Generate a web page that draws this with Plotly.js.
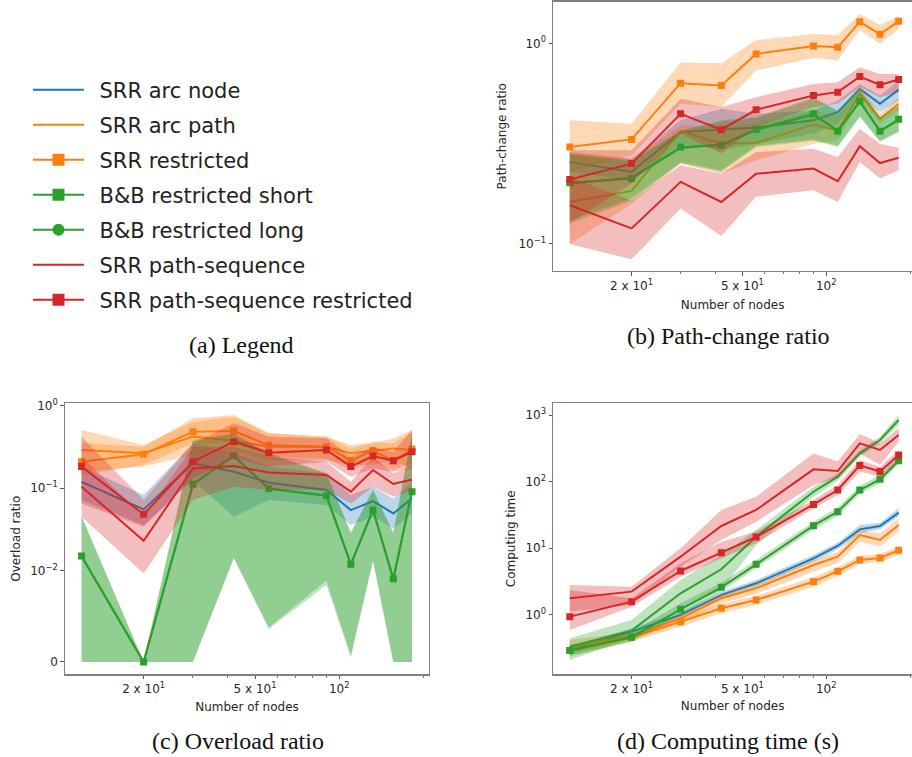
<!DOCTYPE html>
<html>
<head>
<meta charset="utf-8">
<script src="https://cdn.plot.ly/plotly-3.0.1.min.js"></script>
<style>html,body{margin:0;padding:0;background:#fff;}#chart{width:912px;height:757px;}</style>
</head>
<body>
<div id="chart"></div>
<script>
// ---------- data ----------
const nodes = [12, 20, 30, 42, 56, 90, 110, 132, 156, 182];
const xTickVals = [20, 50, 100];
const xTickText = ['2 x 10<sup>1</sup>', '5 x 10<sup>1</sup>', '10<sup>2</sup>'];
const xMinorVals = [30, 40, 60, 70, 80, 90, 200];

const seriesNames = ['SRR arc node', 'SRR arc path', 'SRR restricted', 'B&B restricted short',
  'B&B restricted long', 'SRR path-sequence', 'SRR path-sequence restricted'];

// (b) Path-change ratio
const pcrArcNode      = [0.255, 0.228, 0.360, 0.370, 0.379, 0.412, 0.453, 0.592, 0.499, 0.586];
const pcrArcNodeLo    = [0.228, 0.207, 0.315, 0.292, 0.315, 0.353, 0.396, 0.538, 0.453, 0.518];
const pcrArcNodeHi    = [0.286, 0.265, 0.412, 0.471, 0.444, 0.462, 0.518, 0.627, 0.548, 0.651];
const pcrArcPath      = [0.161, 0.183, 0.365, 0.315, 0.318, 0.393, 0.367, 0.559, 0.420, 0.499];
const pcrArcPathLo    = [0.0994, 0.158, 0.2505, 0.223, 0.260, 0.315, 0.327, 0.518, 0.396, 0.462];
const pcrArcPathHi    = [0.281, 0.265, 0.388, 0.381, 0.396, 0.462, 0.436, 0.615, 0.444, 0.538];
const pcrRestricted   = [0.303, 0.331, 0.632, 0.615, 0.885, 0.970, 0.955, 1.28, 1.11, 1.29];
const pcrRestrictedLo = [0.228, 0.275, 0.499, 0.480, 0.731, 0.845, 0.820, 1.165, 0.992, 1.179];
const pcrRestrictedHi = [0.412, 0.396, 0.801, 0.795, 1.039, 1.113, 1.10, 1.40, 1.239, 1.37];
const pcrBBShort      = [0.201, 0.211, 0.303, 0.309, 0.371, 0.444, 0.363, 0.514, 0.363, 0.417];
const pcrBBShortLo    = [0.126, 0.164, 0.2505, 0.228, 0.303, 0.327, 0.303, 0.428, 0.321, 0.360];
const pcrBBShortHi    = [0.281, 0.260, 0.367, 0.412, 0.428, 0.538, 0.462, 0.592, 0.428, 0.489];
const pcrBBLong       = [0.199, 0.213, 0.300, 0.312, 0.368, 0.440, 0.366, 0.510, 0.366, 0.413];
const pcrBBLongLo     = [0.130, 0.168, 0.255, 0.232, 0.308, 0.331, 0.307, 0.432, 0.325, 0.364];
const pcrBBLongHi     = [0.276, 0.257, 0.362, 0.405, 0.422, 0.530, 0.456, 0.585, 0.424, 0.484];
const pcrPathSeq      = [0.155, 0.1188, 0.203, 0.161, 0.223, 0.2365, 0.2045, 0.3055, 0.252, 0.268];
const pcrPathSeqLo    = [0.0994, 0.0832, 0.1494, 0.1088, 0.171, 0.1845, 0.161, 0.255, 0.211, 0.232];
const pcrPathSeqHi    = [0.215, 0.164, 0.2457, 0.223, 0.286, 0.297, 0.270, 0.374, 0.315, 0.301];
const pcrPathSeqR     = [0.2084, 0.2505, 0.444, 0.370, 0.4655, 0.548, 0.570, 0.682, 0.620, 0.659];
const pcrPathSeqRLo   = [0.126, 0.199, 0.353, 0.281, 0.381, 0.480, 0.499, 0.604, 0.538, 0.570];
const pcrPathSeqRHi   = [0.292, 0.292, 0.528, 0.480, 0.538, 0.627, 0.639, 0.759, 0.703, 0.703];

// (c) Overload ratio
const ovrArcNode      = [0.119, 0.055, 0.1995, 0.158, 0.116, 0.0946, 0.054, 0.0695, 0.0492, 0.0749];
const ovrArcNodeLo    = [0.0715, 0.0355, 0.125, 0.0448, 0.0715, 0.0621, 0.0355, 0.0448, 0.0323, 0.0492];
const ovrArcNodeHi    = [0.182, 0.0822, 0.349, 0.264, 0.182, 0.151, 0.0822, 0.104, 0.0749, 0.114];
const ovrArcPath      = [0.290, 0.264, 0.421, 0.376, 0.318, 0.318, 0.264, 0.284, 0.303, 0.290];
const ovrArcPathLo    = [0.158, 0.182, 0.252, 0.290, 0.219, 0.219, 0.190, 0.190, 0.219, 0.173];
const ovrArcPathHi    = [0.507, 0.333, 0.640, 0.736, 0.462, 0.421, 0.333, 0.349, 0.402, 0.507];
const ovrRestricted   = [0.209, 0.257, 0.484, 0.493, 0.330, 0.318, 0.215, 0.284, 0.215, 0.298];
const ovrRestrictedLo = [0.144, 0.190, 0.349, 0.349, 0.240, 0.229, 0.166, 0.209, 0.166, 0.1995];
const ovrRestrictedHi = [0.349, 0.318, 0.703, 0.772, 0.462, 0.421, 0.303, 0.366, 0.349, 0.484];
const ovrBBShort      = [0.0150, 0, 0.111, 0.247, 0.098, 0.0807, 0.0119, 0.054, 0.0091, 0.0903];
const ovrBBShortLo    = [0, 0, 0, 0.0140, 0.0038, 0.0089, 0.0007, 0.0133, 0, 0];
const ovrBBShortHi    = [0.0448, 0, 0.383, 0.462, 0.264, 0.151, 0.0281, 0.0946, 0.0281, 0.462];
const ovrBBLong       = [0.0148, 0, 0.112, 0.245, 0.099, 0.081, 0.0118, 0.0545, 0.0090, 0.091];
const ovrBBLongLo     = [0, 0, 0, 0.0142, 0.0036, 0.0084, 0.0005, 0.0130, 0, 0];
const ovrBBLongHi     = [0.046, 0, 0.37, 0.45, 0.26, 0.15, 0.029, 0.096, 0.029, 0.45];
const ovrPathSeq      = [0.104, 0.0229, 0.173, 0.185, 0.154, 0.144, 0.0903, 0.1655, 0.112, 0.127];
const ovrPathSeqLo    = [0.0448, 0.00967, 0.0715, 0.104, 0.0946, 0.0946, 0.0651, 0.104, 0.0785, 0.0946];
const ovrPathSeqHi    = [0.240, 0.0448, 0.318, 0.318, 0.240, 0.209, 0.119, 0.240, 0.151, 0.182];
const ovrPathSeqR     = [0.182, 0.048, 0.209, 0.366, 0.269, 0.290, 0.182, 0.245, 0.215, 0.276];
const ovrPathSeqRLo   = [0.0651, 0.0339, 0.131, 0.229, 0.182, 0.209, 0.137, 0.173, 0.158, 0.173];
const ovrPathSeqRHi   = [0.421, 0.0715, 0.349, 0.611, 0.421, 0.402, 0.240, 0.318, 0.276, 0.507];

// (d) Computing time (s)
const ctArcNode      = [0.295, 0.555, 0.989, 1.974, 2.956, 7.02, 10.75, 19.14, 21.48, 34.07];
const ctArcNodeLo    = [0.2625, 0.495, 0.881, 1.76, 2.63, 6.25, 9.58, 16.67, 19.14, 29.7];
const ctArcNodeHi    = [0.331, 0.623, 1.11, 2.216, 3.32, 7.88, 12.07, 22.2, 24.1, 39.6];
const ctArcPath      = [0.331, 0.478, 0.881, 1.76, 2.487, 5.57, 7.43, 15.7, 13.24, 22.2];
const ctArcPathLo    = [0.2625, 0.407, 0.741, 1.48, 2.044, 4.43, 5.90, 12.5, 10.5, 17.7];
const ctArcPathHi    = [0.416, 0.555, 0.989, 2.044, 2.888, 6.63, 8.84, 18.7, 16.67, 28.0];
const ctRestricted   = [0.288, 0.457, 0.785, 1.245, 1.661, 3.13, 4.48, 6.63, 7.10, 9.26];
const ctRestrictedLo = [0.248, 0.393, 0.66, 1.047, 1.397, 2.63, 3.81, 5.77, 6.18, 7.88];
const ctRestrictedHi = [0.331, 0.524, 0.912, 1.446, 1.907, 3.64, 5.14, 7.61, 8.15, 10.75];
const ctBBShort      = [0.288, 0.457, 1.202, 2.574, 5.70, 21.7, 35.3, 74.6, 108, 205.8];
const ctBBShortLo    = [0.234, 0.393, 0.989, 2.216, 4.97, 19.1, 30.4, 65.0, 94.0, 183.4];
const ctBBShortHi    = [0.350, 0.537, 1.48, 3.025, 6.63, 24.9, 40.96, 85.7, 125.4, 237];
const ctBBLong       = [0.331, 0.575, 2.092, 4.80, 14.85, 70.4, 118.3, 265, 420.7, 840];
const ctBBLongLo     = [0.2085, 0.441, 1.245, 2.35, 11.1, 59.3, 103, 236.4, 375, 707];
const ctBBLongHi     = [0.441, 0.832, 3.32, 7.88, 18.7, 83.7, 132.8, 297.7, 472, 999];
const ctPathSeq      = [1.76, 2.216, 7.43, 21.5, 37.4, 152.5, 144, 375, 298, 500];
const ctPathSeqLo    = [1.11, 1.397, 5.26, 13.2, 24.9, 88.7, 111.7, 265, 177.2, 397];
const ctPathSeqHi    = [2.79, 2.63, 9.92, 37.4, 59.3, 265, 199.5, 517.6, 375, 630];
const ctPathSeqR     = [0.933, 1.568, 4.53, 8.54, 14.7, 45.4, 74.6, 175, 141.3, 250];
const ctPathSeqRLo   = [0.588, 1.319, 3.72, 7.02, 11.8, 39.6, 62.8, 141.3, 118.3, 210.7];
const ctPathSeqRHi   = [2.35, 1.76, 5.90, 12.5, 17.7, 52.8, 88.7, 210.7, 167.2, 297.7];

// ---------- styles ----------
const styles = [
  {color: '#1f77b4', fill: 'rgba(31,119,180,0.3)', symbol: null},
  {color: '#ff7f0e', fill: 'rgba(255,127,14,0.3)', symbol: null},
  {color: '#ff7f0e', fill: 'rgba(255,127,14,0.3)', symbol: 'square'},
  {color: '#2ca02c', fill: 'rgba(44,160,44,0.3)', symbol: 'square'},
  {color: '#2ca02c', fill: 'rgba(44,160,44,0.3)', symbol: null, legendSymbol: 'circle'},
  {color: '#d62728', fill: 'rgba(214,39,40,0.3)', symbol: null},
  {color: '#d62728', fill: 'rgba(214,39,40,0.3)', symbol: 'square'}
];

// symmetric-log transform (linthresh 0.01, linscale 1) for panel (c)
function symlog(v) {
  const lt = 0.01, ls = 1 / (1 - 1 / 10);
  const a = Math.abs(v);
  if (a <= lt) return Math.sign(v) * a / lt * ls;
  return Math.sign(v) * (ls + Math.log10(a / lt));
}

const panels = [
  {xa: 'x', ya: 'y', f: v => v, data: [
    [pcrArcNode, pcrArcNodeLo, pcrArcNodeHi], [pcrArcPath, pcrArcPathLo, pcrArcPathHi],
    [pcrRestricted, pcrRestrictedLo, pcrRestrictedHi], [pcrBBShort, pcrBBShortLo, pcrBBShortHi],
    [pcrBBLong, pcrBBLongLo, pcrBBLongHi], [pcrPathSeq, pcrPathSeqLo, pcrPathSeqHi],
    [pcrPathSeqR, pcrPathSeqRLo, pcrPathSeqRHi]]},
  {xa: 'x2', ya: 'y2', f: symlog, data: [
    [ovrArcNode, ovrArcNodeLo, ovrArcNodeHi], [ovrArcPath, ovrArcPathLo, ovrArcPathHi],
    [ovrRestricted, ovrRestrictedLo, ovrRestrictedHi], [ovrBBShort, ovrBBShortLo, ovrBBShortHi],
    [ovrBBLong, ovrBBLongLo, ovrBBLongHi], [ovrPathSeq, ovrPathSeqLo, ovrPathSeqHi],
    [ovrPathSeqR, ovrPathSeqRLo, ovrPathSeqRHi]]},
  {xa: 'x3', ya: 'y3', f: v => v, data: [
    [ctArcNode, ctArcNodeLo, ctArcNodeHi], [ctArcPath, ctArcPathLo, ctArcPathHi],
    [ctRestricted, ctRestrictedLo, ctRestrictedHi], [ctBBShort, ctBBShortLo, ctBBShortHi],
    [ctBBLong, ctBBLongLo, ctBBLongHi], [ctPathSeq, ctPathSeqLo, ctPathSeqHi],
    [ctPathSeqR, ctPathSeqRLo, ctPathSeqRHi]]}
];

const traces = [];
panels.forEach(p => {
  p.data.forEach((d, i) => {
    const st = styles[i];
    const [mean, lo, hi] = d;
    traces.push({
      type: 'scatter', mode: 'lines', xaxis: p.xa, yaxis: p.ya,
      x: nodes.concat(nodes.slice().reverse()),
      y: hi.map(p.f).concat(lo.slice().reverse().map(p.f)),
      fill: 'toself', fillcolor: st.fill, line: {width: 0, color: st.fill},
      hoverinfo: 'skip', showlegend: false
    });
    traces.push({
      type: 'scatter', mode: st.symbol ? 'lines+markers' : 'lines',
      xaxis: p.xa, yaxis: p.ya, x: nodes, y: mean.map(p.f),
      line: {color: st.color, width: 2},
      marker: {symbol: st.symbol || 'circle', size: 7, color: st.color},
      name: seriesNames[i], showlegend: false
    });
  });
});

// legend entries
seriesNames.forEach((n, i) => {
  const st = styles[i];
  const sym = st.symbol || st.legendSymbol;
  traces.push({
    type: 'scatter', mode: sym ? 'lines+markers' : 'lines', x: [null], y: [null],
    xaxis: 'x', yaxis: 'y', name: '\u2002' + n, legendgroup: 'g' + i, showlegend: true,
    line: {color: st.color, width: 2}, marker: {symbol: sym || 'circle', size: 12, color: st.color}
  });
});

const W = 912, H = 757;
const tickFont = {family: 'DejaVu Sans', size: 12, color: '#262626'};
const titleFont = {family: 'DejaVu Sans', size: 12, color: '#262626'};
function xAxis(domain, range, anchor, standoff) {
  return {
    domain: domain, anchor: anchor, type: 'log', range: range,
    tickmode: 'array', tickvals: xTickVals, ticktext: xTickText,
    ticks: 'outside', ticklen: 3.5, tickwidth: 1, tickcolor: '#555',
    minor: {tickmode: 'array', tickvals: xMinorVals, ticks: 'outside', ticklen: 2, tickwidth: 0.8, tickcolor: '#555', showgrid: false},
    showline: true, mirror: true, linecolor: '#808080', linewidth: 1.3,
    showgrid: false, zeroline: false, automargin: false, tickfont: tickFont,
    title: {text: 'Number of nodes', font: titleFont, standoff: standoff}
  };
}
function yAxisBase(domain, anchor, mirror) {
  return {
    domain: domain, anchor: anchor, ticks: 'outside', ticklen: 3.5, tickwidth: 1, tickcolor: '#555',
    showline: true, mirror: mirror, linecolor: '#808080', linewidth: 1.3,
    showgrid: false, zeroline: false, automargin: false, tickfont: tickFont
  };
}

const bx = [553.3 / W, 1];
const by = [1 - 271 / H, 1 - 1.5 / H];
const cx = [65 / W, 429 / W];
const lowY = [1 - 674.2 / H, 1 - 403.3 / H];

const layout = {
  width: W, height: H, margin: {l: 0, r: 0, t: 0, b: 0},
  paper_bgcolor: '#fff', plot_bgcolor: 'rgba(0,0,0,0)',
  font: {family: 'DejaVu Sans', color: '#262626'},
  showlegend: true,
  legend: {
    x: 28 / W, y: 1 - 69.5 / H, xanchor: 'left', yanchor: 'top',
    font: {family: 'DejaVu Sans', size: 21, color: '#222'},
    bgcolor: 'rgba(0,0,0,0)', borderwidth: 0, itemwidth: 51,
    traceorder: 'grouped', tracegroupgap: 4.7
  },
  xaxis: xAxis(bx, [1.02, 2.308], 'y', 8),
  yaxis: Object.assign(yAxisBase(by, 'x', false), {
    type: 'log', range: [-1.138, 0.209], tickmode: 'array', tickvals: [0.1, 1],
    ticktext: ['10<sup>\u22121</sup>', '10<sup>0</sup>'],
    title: {text: 'Path-change ratio', font: titleFont, standoff: 9}
  }),
  xaxis2: xAxis(cx, [1.020, 2.3207], 'y2', 7),
  yaxis2: Object.assign(yAxisBase(lowY, 'x2', true), {
    type: 'linear', range: [-0.149, 3.140], tickmode: 'array',
    tickvals: [0, 0.01, 0.1, 1].map(symlog),
    ticktext: ['0', '10<sup>\u22122</sup>', '10<sup>\u22121</sup>', '10<sup>0</sup>'],
    title: {text: 'Overload ratio', font: titleFont, standoff: 7}
  }),
  xaxis3: xAxis(bx, [1.02, 2.308], 'y3', 6),
  yaxis3: Object.assign(yAxisBase(lowY, 'x3', false), {
    type: 'log', range: [-0.895, 3.176], tickmode: 'array', tickvals: [1, 10, 100, 1000],
    ticktext: ['10<sup>0</sup>', '10<sup>1</sup>', '10<sup>2</sup>', '10<sup>3</sup>'],
    title: {text: 'Computing time', font: titleFont, standoff: 7}
  }),
  annotations: [
    {text: '(a) Legend', x: 241 / W, y: 1 - 345 / H},
    {text: '(b) Path-change ratio', x: 728 / W, y: 1 - 336 / H},
    {text: '(c) Overload ratio', x: 238 / W, y: 1 - 741 / H},
    {text: '(d) Computing time (s)', x: 728 / W, y: 1 - 741 / H}
  ].map(a => Object.assign(a, {
    xref: 'paper', yref: 'paper', showarrow: false, xanchor: 'center', yanchor: 'middle',
    font: {family: 'Liberation Serif', size: 24, color: '#111'}
  }))
};

Plotly.newPlot('chart', traces, layout, {staticPlot: true, displayModeBar: false});
</script>
</body>
</html>
